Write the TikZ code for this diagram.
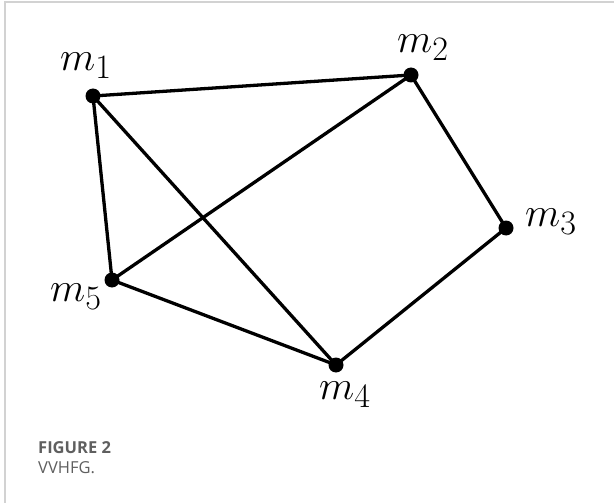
\documentclass[tikz,border=0pt]{standalone}
\usepackage{fontspec}
\setsansfont{Open Sans}
\definecolor{framegray}{RGB}{210,210,210}
\definecolor{capgray}{RGB}{95,95,95}

\begin{document}
\begin{tikzpicture}[x=1pt,y=-1pt,
    vertex/.style={circle,fill=black,minimum size=15pt,inner sep=0pt},
    vlabel/.style={font=\Huge,scale=1.65},
    edge/.style={line width=3.3pt}]
  \useasboundingbox (0,0) rectangle (614,503);
  \draw[framegray,line width=1.5pt] (5,503) -- (5,2) -- (614,2);
  % vertices
  \node[vertex] (m1) at (93,96) {};
  \node[vertex] (m2) at (411,75) {};
  \node[vertex] (m3) at (506,228) {};
  \node[vertex] (m4) at (336,365) {};
  \node[vertex] (m5) at (112,280) {};
  \node[vlabel] (l1) at (86,66) {$m_1$};
  \node[vlabel] (l2) at (423,48) {$m_2$};
  \node[vlabel] (l3) at (551,222) {$m_3$};
  \node[vlabel] (l4) at (345,395) {$m_4$};
  \node[vlabel] (l5) at (76,297) {$m_5$};
  % edges
  \draw[edge] (m1.center) -- (m2.center) -- (m3.center) -- (m4.center) -- (m5.center) -- (m1.center);
  \draw[edge] (m1.center) -- (m4.center);
  \draw[edge] (m2.center) -- (m5.center);
  % caption
  \node[anchor=base west,font=\sffamily\bfseries\fontsize{16.5}{19}\selectfont,text=capgray,inner sep=0pt] (fig) at (38,453) {FIGURE 2};
  \node[anchor=base west,font=\sffamily\fontsize{16.5}{19}\selectfont,text=capgray,inner sep=0pt] (cap) at (38,473) {VVHFG.};
\end{tikzpicture}
\end{document}
